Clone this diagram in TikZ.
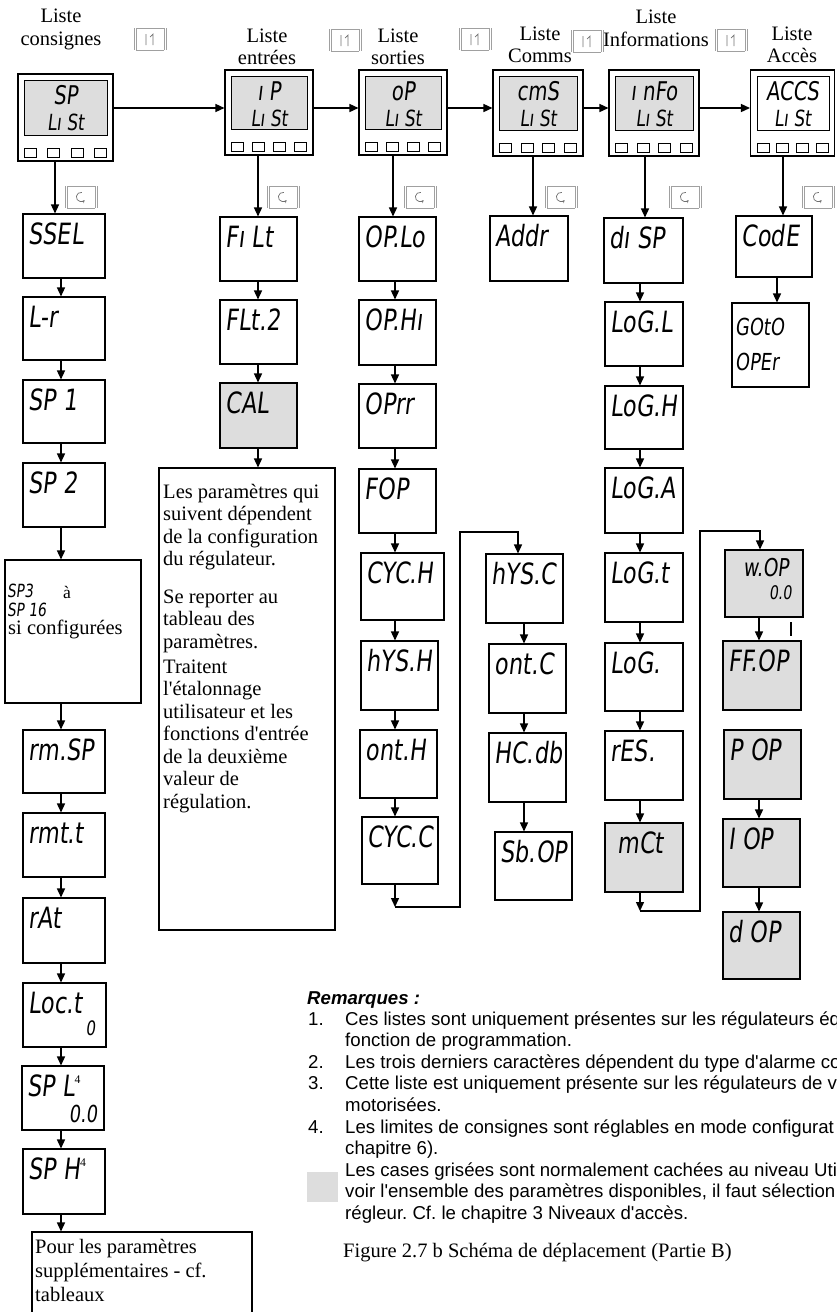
\documentclass[tikz,border=0pt]{standalone}
\usepackage{fontspec}
\setmainfont{Liberation Serif}
\newfontfamily\timesf{Liberation Serif}
\newfontfamily\segf[FakeSlant=0.12,FakeStretch=0.76]{DejaVu Sans}
\newfontfamily\arialf{Liberation Sans}
\usetikzlibrary{arrows.meta,calc}
\definecolor{lcd}{HTML}{DDDDDD}
\definecolor{keyg}{HTML}{A0A0A0}
\definecolor{keyd}{HTML}{707070}
\frenchspacing

\tikzset{
  pbox/.style={draw, line width=0.9pt, inner sep=0pt},
  seg/.style={font=\segf\fontsize{25}{25}\selectfont, inner sep=0pt},
  arr/.style={line width=1.2pt, -{Triangle[length=0.27cm,width=0.24cm]}},
  ln/.style={line width=1.2pt},
  serif/.style={font=\timesf\fontsize{17.5}{19}\selectfont, inner sep=0pt, anchor=base west},
  hdr/.style={font=\timesf\fontsize{17.5}{19}\selectfont, inner sep=0pt, anchor=base},
  rem/.style={font=\arialf\fontsize{15.9}{18}\selectfont, inner sep=0pt, anchor=base west},
}

% parameter box: [opts] name, cx, cy, w, h, text
\newcommand\pb[7][]{%
  \node[pbox,minimum width=#5*0.03cm,minimum height=#6*0.03cm,#1] (#2) at (#3,#4) {};
  \node[seg,anchor=base west] (#2t) at ($(#2.north west)+(6,31)$) {#7};}

% header box: name, cx, cy, w, h, screen fill, line1, line2
\newcommand\hb[8]{%
  \node[pbox,minimum width=#4*0.03cm,minimum height=#5*0.03cm] (#1) at (#2,#3) {};
  \draw[line width=0.8pt, fill=#6] ($(#1.north west)+(7,7)$) rectangle ($(#1.south east)+(-6,-26)$);
  \foreach \i in {0,1,2,3}
    \draw[line width=0.8pt] ($(#1.south west)+({7+\i*(#4-25)/3},-13)$) rectangle ++(12,9);
  \node[seg,font=\segf\fontsize{22}{22}\selectfont,anchor=base] (#1a) at ($(#1.north)+(0,31)$) {#7};
  \node[seg,font=\segf\fontsize{19}{19}\selectfont,anchor=base] (#1b) at ($(#1.north)+(0,57)$) {#8};}

\newcommand\keyframe{%
  \draw[keyg,line width=0.4pt] (-14,-11) -- (14,-11) (-14,11) -- (14,11);
  \draw[keyg,line width=0.6pt] (-16,-11) -- (-16,11) (16,-11) -- (16,11);
  \draw[keyg,line width=0.4pt] (-14,-11) -- (-14,11) (14,-11) -- (14,11);}
\newcommand\pagekey[2]{\begin{scope}[shift={(#1,#2)}]\keyframe
  \draw[keyd,line width=0.6pt] (-4,-5) -- (-4,6) (3,6) -- (3,-5) -- (0,-2);\end{scope}}
\newcommand\scrollkey[2]{\begin{scope}[shift={(#1,#2)}]\keyframe
  \draw[keyd,line width=0.6pt,-{Stealth[length=0.09cm,width=0.09cm]}]
    (0,0) ++(80:0.14cm) arc[start angle=80,end angle=320,radius=0.14cm];\end{scope}}

\begin{document}
\begin{tikzpicture}[x=0.03cm,y=-0.03cm]
\useasboundingbox (0,0) rectangle (836,1312);
\clip (0,0) rectangle (836,1312);

% ---------- header titles
\node[hdr] (l1a) at (61,22) {Liste};
\node[hdr] (l1b) at (61,45) {consignes};
\node[hdr] (l2a) at (267,42) {Liste};
\node[hdr] (l2b) at (267,64) {entrées};
\node[hdr] (l3a) at (398,42) {Liste};
\node[hdr] (l3b) at (398,64) {sorties};
\node[hdr] (l4a) at (540,40) {Liste};
\node[hdr] (l4b) at (540,62) {Comms};
\node[hdr] (l5a) at (656,23) {Liste};
\node[hdr] (l5b) at (656,46) {Informations};
\node[hdr] (l6a) at (792,40) {Liste};
\node[hdr] (l6b) at (792,62) {Accès};

\pagekey{150}{39}
\pagekey{345}{40}
\pagekey{475}{39}
\pagekey{587}{41}
\pagekey{731}{40}

% ---------- header boxes
\hb{hsp}{65.5}{117.5}{95}{87}{lcd}{SP}{Lı St}
\hb{hip}{269}{112.5}{88}{85}{lcd}{ı P}{Lı St}
\hb{hop}{403}{112.5}{88}{85}{lcd}{oP}{Lı St}
\hb{hcm}{538}{113}{90}{86}{lcd}{cmS}{Lı St}
\hb{hin}{654}{113}{90}{86}{lcd}{ı nFo}{Lı St}
\hb{hac}{792.5}{113}{84}{86}{white}{ACCS}{Lı St}

\coordinate (yh) at (0,108);
\draw[arr] (hsp.east |- yh) -- (hip.west |- yh);
\draw[arr] (hip.east |- yh) -- (hop.west |- yh);
\draw[arr] (hop.east |- yh) -- (hcm.west |- yh);
\draw[arr] (hcm.east |- yh) -- (hin.west |- yh);
\draw[arr] (hin.east |- yh) -- (hac.west |- yh);

\scrollkey{81}{197}
\scrollkey{283}{197}
\scrollkey{420}{197}
\scrollkey{561}{197}
\scrollkey{685}{197}
\scrollkey{818}{197}

% ---------- column 1 : consignes
\pb{ssel}{64}{246}{82}{64}{SSEL}
\pb{lr}{64}{328.5}{82}{63}{L-r}
\pb{spa}{64}{411.5}{82}{63}{SP 1}
\pb{spb}{64}{495}{82}{64}{SP 2}
\node[pbox,minimum width=136*0.03cm,minimum height=143*0.03cm] (sp3) at (73,631.5) {};
\node[seg,font=\segf\fontsize{15.5}{15.5}\selectfont,anchor=base west] (sp3a) at (7,597) {SP3};
\node[serif,font=\timesf\fontsize{15}{15}\selectfont] (sp3b) at (63,598) {à};
\node[seg,font=\segf\fontsize{15.5}{15.5}\selectfont,anchor=base west] (sp3c) at (7,616) {SP 16};
\node[serif] (sp3d) at (8,634) {si configurées};
\pb{rmsp}{64}{761.5}{82}{63}{rm.SP}
\pb{rmtt}{64}{845}{82}{64}{rmt.t}
\pb{rat}{64}{930.5}{82}{65}{rAt}
\pb{loct}{64.5}{1015}{83}{64}{Loc.t}
\node[seg,font=\segf\fontsize{17}{17}\selectfont,anchor=base east] (loct0) at ($(loct.north east)+(-11,53)$) {0};
\pb{spl}{63}{1098}{82}{64}{SP L\raisebox{11pt}{\timesf\fontsize{10}{10}\selectfont 4}}
\node[seg,font=\segf\fontsize{20}{20}\selectfont,anchor=base east] (spl0) at ($(spl.north east)+(-7,57)$) {0.0};
\pb{sph}{64}{1181.5}{82}{65}{SP H\raisebox{11pt}{\timesf\fontsize{10}{10}\selectfont 4}}
\node[pbox,minimum width=220*0.03cm,minimum height=92*0.03cm] (pour) at (142,1278) {};
\node[serif] (pa) at (35,1253) {Pour les paramètres};
\node[serif] (pb) at (35,1277) {supplémentaires - cf.};
\node[serif] (pc) at (35,1301) {tableaux};

\coordinate (c1) at (61,0);
\coordinate (h1) at (55,0);
\draw[arr] (hsp.south -| h1) -- (ssel.north -| h1);
\foreach \a/\b in {ssel/lr, lr/spa, spa/spb, spb/sp3, sp3/rmsp, rmsp/rmtt, rmtt/rat, rat/loct, loct/spl, spl/sph, sph/pour}
  \draw[arr] (\a.south -| c1) -- (\b.north -| c1);

% ---------- column 2 : entrees
\pb{filt}{258.5}{249}{77}{64}{Fı Lt}
\pb{flt}{258.5}{332}{77}{64}{FLt.2}
\pb[fill=lcd]{cal}{258.5}{415.5}{77}{65}{CAL}
\node[pbox,minimum width=176*0.03cm,minimum height=462*0.03cm] (txt) at (247,699) {};
\node[serif] (ta) at (163,498) {Les paramètres qui};
\node[serif] (tb) at (163,520.5) {suivent dépendent};
\node[serif] (tc) at (163,543) {de la configuration};
\node[serif] (td) at (163,565.5) {du régulateur.};
\node[serif] (te) at (163,603) {Se reporter au};
\node[serif] (tf) at (163,625.5) {tableau des};
\node[serif] (tg) at (163,648) {paramètres.};
\node[serif] (th) at (163,673) {Traitent};
\node[serif] (ti) at (163,695.5) {l'étalonnage};
\node[serif] (tj) at (163,718) {utilisateur et les};
\node[serif] (tk) at (163,740.5) {fonctions d'entrée};
\node[serif] (tl) at (163,763) {de la deuxième};
\node[serif] (tm) at (163,785.5) {valeur de};
\node[serif] (tn) at (163,808) {régulation.};

\coordinate (c2) at (258,0);
\draw[arr] (hip.south -| c2) -- (filt.north -| c2);
\foreach \a/\b in {filt/flt, flt/cal, cal/txt}
  \draw[arr] (\a.south -| c2) -- (\b.north -| c2);

% ---------- column 3 : sorties
\pb{oplo}{397.5}{249}{77}{64}{OP.Lo}
\pb{ophi}{397.5}{332.5}{77}{65}{OP.Hı}
\pb{oprr}{397.5}{416}{77}{64}{OPrr}
\pb{fop}{397.5}{501}{77}{64}{FOP}
\pb{cych}{402.5}{586.5}{83}{67}{CYC.H}
\pb{hysh}{399.5}{675.5}{77}{69}{hYS.H}
\pb{onth}{398.5}{764}{77}{68}{ont.H}
\pb{cycc}{400}{850.5}{76}{67}{CYC.C}

\pb{hysc}{524.5}{588.5}{77}{69}{hYS.C}
\pb{ontc}{527.5}{678.5}{77}{69}{ont.C}
\pb{hcdb}{527.5}{767.5}{77}{69}{HC.db}
\pb{sbop}{533.5}{866}{77}{68}{Sb.OP}

\coordinate (h3) at (393,0);
\coordinate (c3) at (395,0);
\draw[arr] (hop.south -| h3) -- (oplo.north -| h3);
\foreach \a/\b in {oplo/ophi, ophi/oprr, oprr/fop, fop/cych, cych/hysh, hysh/onth, onth/cycc}
  \draw[arr] (\a.south -| c3) -- (\b.north -| c3);
\coordinate (j1) at (395,907);
\coordinate (j2) at (460,907);
\coordinate (j4) at (518,532);
\draw[arr] (cycc.south -| c3) -- (j1);
\draw[arr] (j1) -- (j2) |- (j4) -- (hysc.north -| j4);
\coordinate (c4) at (524,0);
\foreach \a/\b in {hysc/ontc, ontc/hcdb, hcdb/sbop}
  \draw[arr] (\a.south -| c4) -- (\b.north -| c4);

% ---------- column 4 : comms
\pb{addr}{529}{248.5}{78}{65}{Addr}
\coordinate (h4) at (533,0);
\draw[arr] (hcm.south -| h4) -- (addr.north -| h4);

% ---------- column 5 : informations
\pb{disp}{643.5}{250.5}{79}{65}{dı SP}
\pb{logl}{644}{334}{78}{64}{LoG.L}
\pb{logh}{644}{417.5}{78}{63}{LoG.H}
\pb{loga}{644}{500.5}{78}{65}{LoG.A}
\pb{logt}{644}{587.5}{78}{69}{LoG.t}
\pb{logp}{644}{677}{78}{68}{LoG.}
\pb{res}{644}{765.5}{78}{69}{rES.}
\pb[fill=lcd]{mct}{644}{857.5}{78}{69}{\hspace{6pt}mCt}

\node[pbox,fill=lcd,minimum width=78*0.03cm,minimum height=67*0.03cm] (wop) at (764,583.5) {};
\node[seg,font=\segf\fontsize{21}{21}\selectfont,anchor=base west] (wopt) at (743,576) {w.OP};
\node[seg,font=\segf\fontsize{16}{16}\selectfont,anchor=base east] (wop0) at (792,599) {0.0};
\pb[fill=lcd]{ffop}{762}{675.5}{78}{69}{FF.OP}
\pb[fill=lcd]{pop}{762.5}{764.5}{77}{69}{P OP}
\pb[fill=lcd]{iop}{761.5}{853}{77}{68}{I OP}
\pb[fill=lcd]{dop}{761.5}{945.5}{77}{67}{d OP}
\draw[line width=1.3pt] (791,622) -- (791,636);

\coordinate (h5) at (645,0);
\coordinate (c5) at (640,0);
\draw[arr] (hin.south -| h5) -- (disp.north -| h5);
\foreach \a/\b in {disp/logl, logl/logh, logh/loga, loga/logt, logt/logp, logp/res, res/mct}
  \draw[arr] (\a.south -| c5) -- (\b.north -| c5);
\coordinate (k1) at (640,911);
\coordinate (k2) at (700,911);
\coordinate (k4) at (760,531);
\draw[arr] (mct.south -| c5) -- (k1);
\draw[arr] (k1) -- (k2) |- (k4) -- (wop.north -| k4);
\coordinate (c6) at (759,0);
\foreach \a/\b in {wop/ffop, pop/iop, iop/dop}
  \draw[arr] (\a.south -| c6) -- (\b.north -| c6);

% ---------- column 6 : acces
\pb{code}{774}{246.5}{76}{61}{CodE}
\node[pbox,minimum width=77*0.03cm,minimum height=84*0.03cm] (goto) at (770.5,345) {};
\node[seg,font=\segf\fontsize{20}{20}\selectfont,anchor=base west] (gotoa) at (735,335) {GOtO};
\node[seg,font=\segf\fontsize{20}{20}\selectfont,anchor=base west] (gotob) at (735,370) {OPEr};
\coordinate (h6) at (783,0);
\coordinate (c7) at (777,0);
\draw[arr] (hac.south -| h6) -- (code.north -| h6);
\draw[arr] (code.south -| c7) -- (goto.north -| c7);

% ---------- remarks
\node[rem,font=\arialf\bfseries\itshape\fontsize{15.9}{18}\selectfont] (rk) at (307,1004) {Remarques :};
\node[rem] (r1n) at (308,1025) {1.};
\node[rem] (r1) at (345,1025) {Ces listes sont uniquement présentes sur les régulateurs éq};
\node[rem] (r1b) at (345,1046.6) {fonction de programmation.};
\node[rem] (r2n) at (308,1068.2) {2.};
\node[rem] (r2) at (345,1068.2) {Les trois derniers caractères dépendent du type d'alarme co};
\node[rem] (r3n) at (308,1089.8) {3.};
\node[rem] (r3) at (345,1089.8) {Cette liste est uniquement présente sur les régulateurs de v};
\node[rem] (r3b) at (345,1111.4) {motorisées.};
\node[rem] (r4n) at (308,1133) {4.};
\node[rem] (r4) at (345,1133) {Les limites de consignes sont réglables en mode configurat};
\node[rem] (r4b) at (345,1154.6) {chapitre 6).};
\node[fill=lcd,inner sep=0pt,minimum width=31*0.03cm,minimum height=30*0.03cm] (sw) at (322.5,1187) {};
\node[rem] (r5) at (345,1176.2) {Les cases grisées sont normalement cachées au niveau Uti};
\node[rem] (r5b) at (345,1197.8) {voir l'ensemble des paramètres disponibles, il faut sélection};
\node[rem] (r5c) at (345,1219.4) {régleur. Cf. le chapitre 3 Niveaux d'accès.};

\node[serif] (cap) at (343,1257) {Figure 2.7 b Schéma de déplacement (Partie B)};
\end{tikzpicture}
\end{document}
